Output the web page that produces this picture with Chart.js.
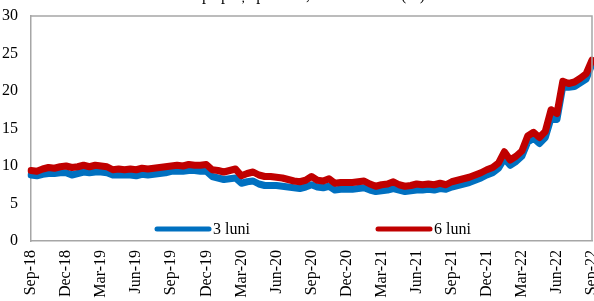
<!DOCTYPE html>
<html>
<head>
<meta charset="utf-8">
<script src="https://cdn.jsdelivr.net/npm/chart.js@4.4.0/dist/chart.umd.min.js"></script>
<style>
  html, body { margin: 0; padding: 0; background: #fff; }
  #c { display: block; }
</style>
</head>
<body>
<canvas id="c" width="594" height="301"></canvas>
<script>
// quarter tick labels (one every 6 half-month points)
const tickLabels = ["Sep-18","Dec-18","Mar-19","Jun-19","Sep-19","Dec-19","Mar-20","Jun-20",
  "Sep-20","Dec-20","Mar-21","Jun-21","Sep-21","Dec-21","Mar-22","Jun-22","Sep-22"];

const seriesNames = ["3 luni", "6 luni"];

// yields, %, read roughly every half month from Sep-18 to Sep-22
const luni3 = [
  8.8, 8.7, 8.9, 9.0, 9.0, 9.1, 9.1, 8.8, 9.0, 9.2,
  9.1, 9.2, 9.2, 9.1, 8.8, 8.8, 8.8, 8.8, 8.7, 8.9,
  8.8, 8.9, 9.0, 9.1, 9.3, 9.3, 9.3, 9.4, 9.4, 9.3,
  9.3, 8.6, 8.4, 8.2, 8.3, 8.4, 7.7, 7.9, 8.0, 7.6,
  7.4, 7.4, 7.4, 7.3, 7.2, 7.1, 7.0, 7.2, 7.5, 7.2,
  7.1, 7.3, 6.8, 6.9, 6.9, 6.9, 7.0, 7.1, 6.8, 6.6,
  6.7, 6.8, 7.0, 6.8, 6.6, 6.7, 6.8, 6.8, 6.9, 6.8,
  7.0, 6.9, 7.2, 7.4, 7.6, 7.8, 8.1, 8.4, 8.8, 9.1,
  9.7, 11.0, 10.1, 10.6, 11.3, 13.2, 13.7, 13.0, 13.8, 16.4,
  16.2, 20.6, 20.5, 20.6, 21.1, 21.6, 23.6
];

const luni6 = [
  9.4, 9.3, 9.6, 9.8, 9.7, 9.9, 10.0, 9.8, 9.9, 10.1,
  9.9, 10.1, 10.0, 9.9, 9.5, 9.6, 9.5, 9.6, 9.5, 9.7,
  9.6, 9.7, 9.8, 9.9, 10.0, 10.1, 10.0, 10.2, 10.1, 10.1,
  10.2, 9.5, 9.4, 9.2, 9.4, 9.6, 8.7, 9.0, 9.2, 8.8,
  8.6, 8.6, 8.5, 8.4, 8.2, 8.0, 7.9, 8.1, 8.6, 8.1,
  8.0, 8.3, 7.7, 7.8, 7.8, 7.8, 7.9, 8.0, 7.6, 7.3,
  7.5, 7.6, 7.9, 7.5, 7.3, 7.4, 7.6, 7.5, 7.6, 7.5,
  7.7, 7.5, 7.9, 8.1, 8.3, 8.5, 8.8, 9.1, 9.5, 9.8,
  10.4, 11.9, 10.8, 11.3, 12.0, 14.0, 14.5, 13.8, 14.6, 17.5,
  17.0, 21.3, 21.0, 21.2, 21.7, 22.3, 24.1
];

const BLUE = "#0070C0";
const RED = "#C00000";
const AXIS = "#a6a6a6";
const FONT = "'Liberation Serif', 'DejaVu Serif', serif";

// one category per half month
const labels = luni3.map((v, i) => i % 6 === 0 ? tickLabels[i / 6] : "");

const framePlugin = {
  id: "frame",
  afterDraw(chart) {
    const { ctx, chartArea: a } = chart;
    ctx.save();
    ctx.strokeStyle = AXIS;
    ctx.lineWidth = 1.5;
    ctx.beginPath();
    ctx.moveTo(a.left, a.top);
    ctx.lineTo(a.right, a.top);
    ctx.lineTo(a.right, a.bottom);
    ctx.stroke();

    // legend inside the plot, near the bottom
    const items = [[seriesNames[0], BLUE, 157], [seriesNames[1], RED, 378]];
    const y = a.bottom - 12;
    ctx.lineCap = "round";
    ctx.lineWidth = 5;
    ctx.font = "16px " + FONT;
    ctx.textBaseline = "middle";
    ctx.fillStyle = "#000";
    items.forEach(([name, col, x]) => {
      ctx.strokeStyle = col;
      ctx.beginPath();
      ctx.moveTo(x, y);
      ctx.lineTo(x + 52, y);
      ctx.stroke();
      ctx.fillText(name, x + 56, y + 1);
    });

    // title, mostly cut off by the top edge
    ctx.textBaseline = "alphabetic";
    ctx.textAlign = "right";
    ctx.fillText("Rata dobânzii la VMS pe piața primară, medie lunară (%)", 425, 0);
    ctx.restore();
  }
};

new Chart(document.getElementById("c"), {
  type: "line",
  data: {
    labels: labels,
    datasets: [
      {
        label: seriesNames[0],
        data: luni3,
        borderColor: BLUE,
        borderWidth: 7,
        pointRadius: 0,
        tension: 0,
        borderJoinStyle: "round",
        borderCapStyle: "round",
        order: 2
      },
      {
        label: seriesNames[1],
        data: luni6,
        borderColor: RED,
        borderWidth: 7,
        pointRadius: 0,
        tension: 0,
        borderJoinStyle: "round",
        borderCapStyle: "round",
        order: 1
      }
    ]
  },
  options: {
    responsive: false,
    animation: false,
    layout: { padding: { left: 0, right: 2, top: 16, bottom: 0 } },
    plugins: { legend: { display: false }, tooltip: { enabled: false } },
    scales: {
      x: {
        offset: false,
        grid: { display: false, drawTicks: false },
        border: { display: true, color: AXIS, width: 1.5 },
        ticks: {
          autoSkip: false,
          maxRotation: 90,
          minRotation: 90,
          padding: 9,
          color: "#000",
          font: { family: FONT, size: 16 }
        },
        afterFit(scale) {
          scale.height = 60;
          scale.paddingLeft = 0;
          scale.paddingRight = 0;
        }
      },
      y: {
        min: 0,
        max: 30,
        grid: { display: false, drawTicks: false },
        border: { display: true, color: AXIS, width: 1.5 },
        ticks: {
          stepSize: 5,
          padding: 13,
          color: "#000",
          font: { family: FONT, size: 16 }
        },
        afterFit(scale) {
          scale.width = 31;
          scale.paddingTop = 0;
          scale.paddingBottom = 0;
        }
      }
    }
  },
  plugins: [framePlugin]
});
</script>
</body>
</html>
